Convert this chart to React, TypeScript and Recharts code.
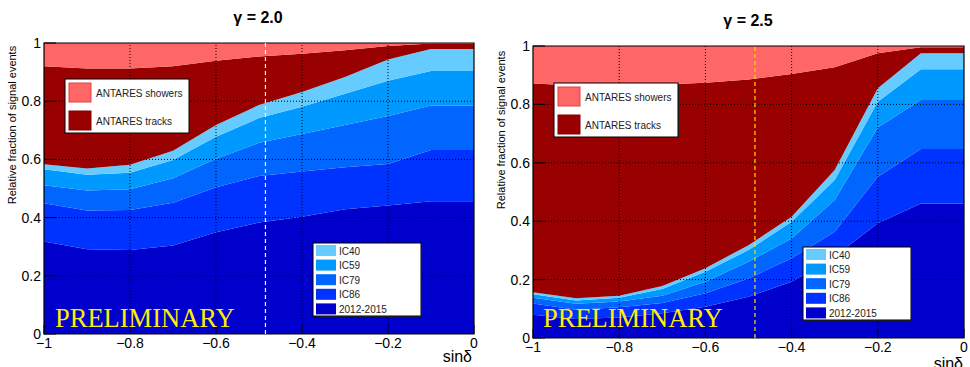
import React from 'react';
import { AreaChart, Area, XAxis, YAxis, ReferenceLine, ReferenceArea } from 'recharts';

// ---------- data ----------
const sinDelta = [-1, -0.9, -0.8, -0.7, -0.6, -0.5, -0.4, -0.3, -0.2, -0.1, 0];
const xTicks = [-1, -0.8, -0.6, -0.4, -0.2, 0];
const yTicks = [0, 0.2, 0.4, 0.6, 0.8, 1];
const xGrid = [-0.8, -0.6, -0.4, -0.2];
const yGrid = [0.2, 0.4, 0.6, 0.8];
const markerSinDelta = -0.485;

const seriesKeys = ['y2012', 'ic86', 'ic79', 'ic59', 'ic40', 'tracks', 'showers'];
const seriesNames = ['2012-2015', 'IC86', 'IC79', 'IC59', 'IC40', 'ANTARES tracks', 'ANTARES showers'];
const seriesColors = ['#0000CC', '#0033FF', '#0066FF', '#0099FF', '#66CCFF', '#990000', '#FF6666'];

// gamma = 2.0 : fraction of signal events per sample
const g20_y2012 = [0.318, 0.291, 0.289, 0.304, 0.350, 0.383, 0.403, 0.429, 0.442, 0.456, 0.456];
const g20_ic86 = [0.131, 0.133, 0.137, 0.147, 0.154, 0.160, 0.155, 0.144, 0.142, 0.176, 0.176];
const g20_ic79 = [0.062, 0.069, 0.071, 0.084, 0.098, 0.114, 0.129, 0.145, 0.165, 0.153, 0.153];
const g20_ic59 = [0.055, 0.054, 0.057, 0.063, 0.076, 0.085, 0.094, 0.108, 0.121, 0.119, 0.119];
const g20_ic40 = [0.017, 0.022, 0.028, 0.032, 0.040, 0.045, 0.051, 0.057, 0.073, 0.075, 0.075];
const g20_tracks = [0.337, 0.343, 0.330, 0.290, 0.221, 0.167, 0.131, 0.092, 0.047, 0.019, 0.019];
const g20_showers = [0.080, 0.088, 0.088, 0.080, 0.061, 0.046, 0.037, 0.025, 0.010, 0.002, 0.002];

// gamma = 2.5
const g25_y2012 = [0.080, 0.065, 0.070, 0.085, 0.107, 0.141, 0.193, 0.280, 0.393, 0.461, 0.461];
const g25_ic86 = [0.038, 0.032, 0.035, 0.035, 0.046, 0.063, 0.080, 0.084, 0.159, 0.186, 0.186];
const g25_ic79 = [0.020, 0.020, 0.020, 0.025, 0.040, 0.057, 0.068, 0.109, 0.169, 0.168, 0.168];
const g25_ic59 = [0.012, 0.011, 0.013, 0.023, 0.034, 0.040, 0.057, 0.068, 0.088, 0.105, 0.105];
const g25_ic40 = [0.007, 0.008, 0.007, 0.010, 0.012, 0.017, 0.017, 0.034, 0.046, 0.055, 0.055];
const g25_tracks = [0.715, 0.729, 0.721, 0.690, 0.635, 0.567, 0.489, 0.352, 0.120, 0.021, 0.021];
const g25_showers = [0.128, 0.135, 0.134, 0.132, 0.126, 0.115, 0.096, 0.073, 0.025, 0.004, 0.004];

const buildRows = (cols: number[][]) =>
  sinDelta.map((x, i) => {
    const row: Record<string, number> = { x };
    seriesKeys.forEach((k, j) => (row[k] = cols[j][i]));
    return row;
  });

const data20 = buildRows([g20_y2012, g20_ic86, g20_ic79, g20_ic59, g20_ic40, g20_tracks, g20_showers]);
const data25 = buildRows([g25_y2012, g25_ic86, g25_ic79, g25_ic59, g25_ic40, g25_tracks, g25_showers]);

// ---------- styling ----------
const FONT = '"Liberation Sans", Arial, Helvetica, sans-serif';
const SERIF = '"Liberation Serif", "Times New Roman", serif';
const PANEL_W = 485;
const PANEL_H = 367;

const fmt = (v: number) => {
  if (v === 0) return '0';
  const s = String(Math.abs(v));
  return v < 0 ? '\u2212' + s : s;
};

const makeYTick = (margin: number) => (props: any) => {
  const { x, y, payload } = props;
  const ax = x + margin;
  return (
    <g>
      <line x1={ax} x2={ax + 12} y1={y} y2={y} stroke="#000" strokeWidth={1} />
      <text x={x} y={y} dy={5} textAnchor="end" fontSize={14} fontFamily={FONT} fill="#000">
        {fmt(payload.value)}
      </text>
    </g>
  );
};

const makeXTick = (margin: number) => (props: any) => {
  const { x, y, payload } = props;
  const ay = y - margin;
  return (
    <g>
      <line x1={x} x2={x} y1={ay} y2={ay - 9} stroke="#000" strokeWidth={1} />
      <text x={x} y={ay} dy={14} textAnchor="middle" fontSize={14} fontFamily={FONT} fill="#000">
        {fmt(payload.value)}
      </text>
    </g>
  );
};

type Layout = {
  top: number;
  yAxisW: number;
  right: number;
  bottom: number;
  xAxisH: number;
  title: [number, number];
  ylabel: [number, number];
  xlabel: [number, number];
  antares: [number, number];
  ic: [number, number];
  prelim: [number, number];
  markerColor: string;
};

const Panel = ({ title, data, L }: { title: string; data: any[]; L: Layout }) => {
  const antW = 124;
  const antH = 54;
  const icW = 108;
  const icH = 73;
  const icOrder = [4, 3, 2, 1, 0];
  return (
    <div style={{ position: 'relative', width: PANEL_W, height: PANEL_H }}>
      <AreaChart
        width={PANEL_W}
        height={PANEL_H}
        data={data}
        margin={{ top: L.top, right: L.right, bottom: L.bottom, left: 0 }}
      >
        {seriesKeys.map((k, i) => (
          <Area
            key={k}
            type="linear"
            dataKey={k}
            name={seriesNames[i]}
            stackId="a"
            stroke="none"
            fill={seriesColors[i]}
            fillOpacity={1}
            dot={false}
            activeDot={false}
            isAnimationActive={false}
          />
        ))}
        {xGrid.map((v) => (
          <ReferenceLine key={'gx' + v} x={v} stroke="#000" strokeDasharray="1 2" strokeWidth={1} />
        ))}
        {yGrid.map((v) => (
          <ReferenceLine key={'gy' + v} y={v} stroke="#000" strokeDasharray="1 2" strokeWidth={1} />
        ))}
        <ReferenceLine x={markerSinDelta} stroke={L.markerColor} strokeDasharray="4 3" strokeWidth={1.2} />
        <ReferenceArea x1={-1} x2={0} y1={0} y2={1} fill="none" stroke="#000" strokeWidth={1.2} />
        <XAxis
          dataKey="x"
          type="number"
          domain={[-1, 0]}
          ticks={xTicks}
          height={L.xAxisH}
          tickSize={0}
          tickMargin={2}
          axisLine={false}
          tickLine={false}
          tick={makeXTick(2)}
          interval={0}
          allowDataOverflow
        />
        <YAxis
          type="number"
          domain={[0, 1]}
          ticks={yTicks}
          width={L.yAxisW}
          tickSize={0}
          tickMargin={3}
          axisLine={false}
          tickLine={false}
          tick={makeYTick(3)}
          interval={0}
          allowDataOverflow
        />
      </AreaChart>
      <svg
        width={PANEL_W}
        height={PANEL_H}
        style={{ position: 'absolute', left: 0, top: 0, pointerEvents: 'none' }}
      >
        <text x={L.title[0]} y={L.title[1]} dy={6} textAnchor="middle" fontSize={16} fontWeight="bold" fontFamily={FONT}>
          {title}
        </text>
        <text
          transform={`translate(${L.ylabel[0]},${L.ylabel[1]}) rotate(-90)`}
          dy={4}
          textAnchor="middle"
          fontSize={11}
          fontFamily={FONT}
        >
          Relative fraction of signal events
        </text>
        <text x={L.xlabel[0]} y={L.xlabel[1]} dy={5} textAnchor="end" fontSize={16} fontFamily={FONT}>
          sinδ
        </text>
        <text x={L.prelim[0]} y={L.prelim[1]} fontSize={26.5} fontFamily={SERIF} fill="#FFEE00">
          PRELIMINARY
        </text>
        {/* ANTARES legend */}
        <g>
          <rect x={L.antares[0] + 1} y={L.antares[1] + 1} width={antW} height={antH} fill="#333" />
          <rect x={L.antares[0]} y={L.antares[1]} width={antW} height={antH} fill="#fff" stroke="#000" />
          {[6, 5].map((si, r) => (
            <g key={si}>
              <rect
                x={L.antares[0] + 4}
                y={L.antares[1] + 4 + r * 28}
                width={22}
                height={19}
                fill={seriesColors[si]}
                stroke={si === 6 ? '#E04040' : '#880000'}
              />
              <text
                x={L.antares[0] + 31}
                y={L.antares[1] + 14 + r * 28}
                dy={4}
                fontSize={10}
                fontFamily={FONT}
                fill="#222"
              >
                {seriesNames[si]}
              </text>
            </g>
          ))}
        </g>
        {/* IceCube legend */}
        <g>
          <rect x={L.ic[0] + 1} y={L.ic[1] + 1} width={icW} height={icH} fill="#333" />
          <rect x={L.ic[0]} y={L.ic[1]} width={icW} height={icH} fill="#fff" stroke="#000" />
          {icOrder.map((si, r) => (
            <g key={si}>
              <rect
                x={L.ic[0] + 3}
                y={L.ic[1] + 2 + r * 14.6}
                width={20}
                height={11}
                fill={seriesColors[si]}
              />
              <text
                x={L.ic[0] + 26}
                y={L.ic[1] + 7.5 + r * 14.6}
                dy={4}
                fontSize={10}
                fontFamily={FONT}
                fill="#222"
              >
                {seriesNames[si]}
              </text>
            </g>
          ))}
        </g>
      </svg>
    </div>
  );
};

const layoutLeft: Layout = {
  top: 43,
  yAxisW: 44,
  right: 11,
  bottom: 13,
  xAxisH: 20,
  title: [258, 17],
  ylabel: [12, 125],
  xlabel: [472, 357],
  antares: [65, 79],
  ic: [313, 243],
  prelim: [55, 327],
  markerColor: '#FFFF99',
};

const layoutRight: Layout = {
  top: 46,
  yAxisW: 48,
  right: 6,
  bottom: 9,
  xAxisH: 20,
  title: [263, 20],
  ylabel: [16, 130],
  xlabel: [478, 364],
  antares: [69, 83],
  ic: [318, 247],
  prelim: [58, 327],
  markerColor: '#FFDD00',
};

export default function App() {
  return (
    <div
      style={{
        position: 'absolute',
        left: 0,
        top: 0,
        width: 970,
        height: 367,
        background: '#fff',
        display: 'flex',
        overflow: 'hidden',
      }}
    >
      <Panel title="γ = 2.0" data={data20} L={layoutLeft} />
      <Panel title="γ = 2.5" data={data25} L={layoutRight} />
    </div>
  );
}
